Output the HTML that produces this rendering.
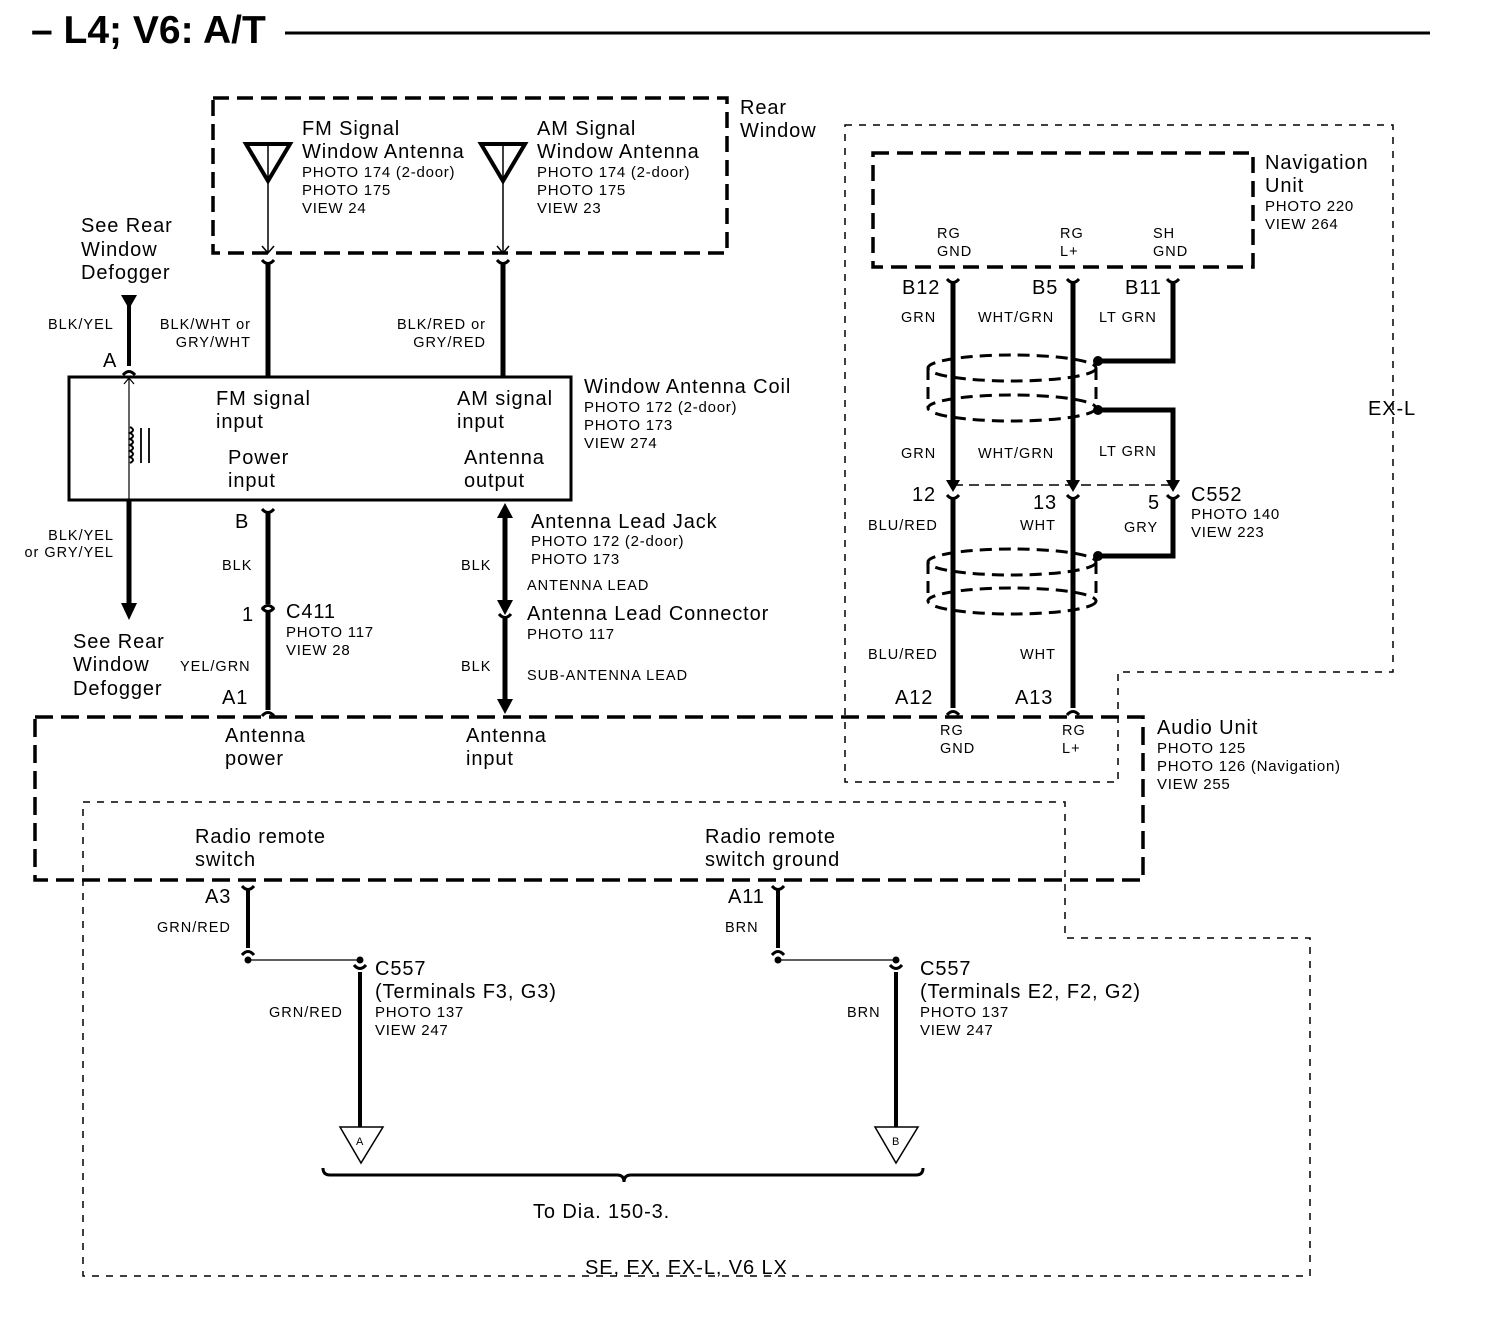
<!DOCTYPE html>
<html><head><meta charset="utf-8"><style>
html,body{margin:0;padding:0;background:#fff}
svg{display:block}
text{font-family:"Liberation Sans",Arial,sans-serif;fill:#000}
.L{font-size:20px;letter-spacing:0.9px}.S{font-size:14.5px;letter-spacing:1px}.W{font-size:15px;letter-spacing:0.75px}
</style></head><body>
<svg width="1504" height="1342" viewBox="0 0 1504 1342" xmlns="http://www.w3.org/2000/svg">
<defs>
<g id="cu"><path d="M-6,-5 Q0,2 6,-5" fill="none" stroke="#000" stroke-width="3"/></g>
<g id="cd"><path d="M-6,5 Q0,-2 6,5" fill="none" stroke="#000" stroke-width="3"/></g>
</defs>
<text x="31" y="43" style="font-size:39px;font-weight:bold">– L4; V6: A/T</text>
<line x1="285" y1="33" x2="1430" y2="33" stroke="#000" stroke-width="3"/>

<g fill="none" stroke="#000">
<rect x="213" y="98" width="514" height="155" stroke-width="3.5" stroke-dasharray="16,8"/>
<rect x="873" y="153" width="380" height="114" stroke-width="3.5" stroke-dasharray="16,8"/>
<rect x="35" y="717" width="1108" height="163" stroke-width="3.5" stroke-dasharray="18,8"/>
<path d="M845,125 H1393 V672 H1118 V782 H845 Z" stroke-width="1.5" stroke-dasharray="7,7"/>
<path d="M83,802 H1065 V938 H1310 V1276 H83 Z" stroke-width="1.5" stroke-dasharray="7,7"/>

<path d="M246,144 H290 L268,181 Z" stroke-width="4"/>
<line x1="268" y1="144" x2="268" y2="253" stroke-width="1.5"/>
<path d="M262,246 L268,253 L274,246" stroke-width="1.5"/>
<path d="M481,144 H525 L503,181 Z" stroke-width="4"/>
<line x1="503" y1="144" x2="503" y2="253" stroke-width="1.5"/>
<path d="M497,246 L503,253 L509,246" stroke-width="1.5"/>
<line x1="268" y1="262" x2="268" y2="377" stroke-width="5"/>
<line x1="503" y1="262" x2="503" y2="377" stroke-width="5"/>
<rect x="69" y="377" width="502" height="123" stroke-width="3"/>
<line x1="129" y1="300" x2="129" y2="366" stroke-width="4"/>
<line x1="129" y1="377" x2="129" y2="500" stroke-width="1.2"/>
<path d="M124,384 L129,378 L134,384" stroke-width="1.2"/>
<path d="M130,427 q6,3 0,6 q6,3 0,6 q6,3 0,6 q6,3 0,6 q6,3 0,6 q6,3 0,6" stroke-width="2"/>
<line x1="141" y1="428" x2="141" y2="463" stroke-width="1.8"/>
<line x1="149" y1="428" x2="149" y2="463" stroke-width="1.8"/>
<line x1="129" y1="500" x2="129" y2="605" stroke-width="5"/>
<line x1="268" y1="512" x2="268" y2="604" stroke-width="5"/>
<line x1="268" y1="612" x2="268" y2="710" stroke-width="5"/>
<line x1="505" y1="508" x2="505" y2="605" stroke-width="5"/>
<line x1="505" y1="616" x2="505" y2="706" stroke-width="5"/>

<line x1="953" y1="282" x2="953" y2="485" stroke-width="5"/>
<line x1="1073" y1="282" x2="1073" y2="485" stroke-width="5"/>
<path d="M1173,282 V361 H1098" stroke-width="5"/>
<path d="M1098,410 H1173 V485" stroke-width="5"/>
<line x1="953" y1="485" x2="1173" y2="485" stroke-width="1.5" stroke-dasharray="10,6"/>
<line x1="953" y1="498" x2="953" y2="708" stroke-width="5"/>
<line x1="1073" y1="498" x2="1073" y2="708" stroke-width="5"/>
<path d="M1173,498 V556 H1098" stroke-width="5"/>
<g stroke-width="3" stroke-dasharray="12,7">
<ellipse cx="1012" cy="368" rx="84" ry="13"/>
<ellipse cx="1012" cy="408" rx="84" ry="13"/>
<line x1="928" y1="368" x2="928" y2="408"/>
<line x1="1096" y1="368" x2="1096" y2="408"/>
<ellipse cx="1012" cy="562" rx="84" ry="13"/>
<ellipse cx="1012" cy="601" rx="84" ry="13"/>
<line x1="928" y1="562" x2="928" y2="601"/>
<line x1="1096" y1="562" x2="1096" y2="601"/>
</g>

<line x1="248" y1="890" x2="248" y2="948" stroke-width="4"/>
<line x1="778" y1="890" x2="778" y2="948" stroke-width="4"/>
<line x1="248" y1="960" x2="360" y2="960" stroke-width="1.2"/>
<line x1="778" y1="960" x2="896" y2="960" stroke-width="1.2"/>
<line x1="360" y1="972" x2="360" y2="1127" stroke-width="4"/>
<line x1="896" y1="972" x2="896" y2="1127" stroke-width="4"/>
<path d="M340,1127 H383 L361,1163 Z" stroke-width="1.5"/>
<path d="M875,1127 H918 L896,1163 Z" stroke-width="1.5"/>
<path d="M323,1168 q0,7 7,7 H617 q7,0 7,7 q0,-7 7,-7 H916 q7,0 7,-7" stroke-width="3"/>
</g>
<path d="M121,295 H137 L129,309 Z"/>
<path d="M121,603 H137 L129,620 Z"/>
<path d="M497,518 L505,503 L513,518 Z"/>
<path d="M497,600 L505,615 L513,600 Z"/>
<path d="M497,699 L505,714 L513,699 Z"/>
<path d="M946,480 L953,492 L960,480 Z"/><path d="M1066,480 L1073,492 L1080,480 Z"/><path d="M1166,480 L1173,492 L1180,480 Z"/>
<circle cx="1098" cy="361" r="5"/><circle cx="1098" cy="410" r="5"/><circle cx="1098" cy="556" r="5"/>
<circle cx="248" cy="960" r="3.5"/><circle cx="360" cy="960" r="3.5"/>
<circle cx="778" cy="960" r="3.5"/><circle cx="896" cy="960" r="3.5"/>
<use href="#cu" x="268" y="265"/><use href="#cu" x="503" y="265"/>
<use href="#cd" x="129" y="370"/>
<use href="#cu" x="268" y="514"/>
<use href="#cd" x="268" y="604"/><use href="#cu" x="268" y="613"/>
<use href="#cd" x="268" y="711"/>
<use href="#cu" x="505" y="619"/>
<use href="#cu" x="953" y="284"/><use href="#cu" x="1073" y="284"/><use href="#cu" x="1173" y="284"/>
<use href="#cu" x="953" y="500"/><use href="#cu" x="1073" y="500"/><use href="#cu" x="1173" y="500"/>
<use href="#cd" x="953" y="710"/><use href="#cd" x="1073" y="710"/>
<use href="#cu" x="248" y="891"/><use href="#cu" x="778" y="891"/>
<use href="#cd" x="248" y="950"/><use href="#cd" x="778" y="950"/>
<use href="#cu" x="360" y="970"/><use href="#cu" x="896" y="970"/>

<text class="L" x="740" y="114">Rear</text><text class="L" x="740" y="137">Window</text>
<text class="L" x="302" y="135">FM Signal</text><text class="L" x="302" y="158">Window Antenna</text>
<text class="W" x="302" y="177">PHOTO 174 (2-door)</text><text class="W" x="302" y="195">PHOTO 175</text><text class="W" x="302" y="213">VIEW 24</text>
<text class="L" x="537" y="135">AM Signal</text><text class="L" x="537" y="158">Window Antenna</text>
<text class="W" x="537" y="177">PHOTO 174 (2-door)</text><text class="W" x="537" y="195">PHOTO 175</text><text class="W" x="537" y="213">VIEW 23</text>
<text class="L" x="81" y="232">See Rear</text><text class="L" x="81" y="256">Window</text><text class="L" x="81" y="279">Defogger</text>
<text class="S" x="48" y="329">BLK/YEL</text>
<text class="L" x="103" y="367">A</text>
<text class="S" x="251" y="329" text-anchor="end">BLK/WHT or</text><text class="S" x="251" y="347" text-anchor="end">GRY/WHT</text>
<text class="S" x="486" y="329" text-anchor="end">BLK/RED or</text><text class="S" x="486" y="347" text-anchor="end">GRY/RED</text>
<text class="L" x="216" y="405">FM signal</text><text class="L" x="216" y="428">input</text>
<text class="L" x="228" y="464">Power</text><text class="L" x="228" y="487">input</text>
<text class="L" x="457" y="405">AM signal</text><text class="L" x="457" y="428">input</text>
<text class="L" x="464" y="464">Antenna</text><text class="L" x="464" y="487">output</text>
<text class="L" x="584" y="393">Window Antenna Coil</text>
<text class="W" x="584" y="412">PHOTO 172 (2-door)</text><text class="W" x="584" y="430">PHOTO 173</text><text class="W" x="584" y="448">VIEW 274</text>
<text class="S" x="114" y="540" text-anchor="end">BLK/YEL</text><text class="S" x="114" y="557" text-anchor="end">or GRY/YEL</text>
<text class="L" x="73" y="648">See Rear</text><text class="L" x="73" y="671">Window</text><text class="L" x="73" y="695">Defogger</text>
<text class="L" x="235" y="528">B</text>
<text class="S" x="222" y="570">BLK</text>
<text class="L" x="242" y="621">1</text>
<text class="L" x="286" y="618">C411</text><text class="W" x="286" y="637">PHOTO 117</text><text class="W" x="286" y="655">VIEW 28</text>
<text class="S" x="180" y="671">YEL/GRN</text>
<text class="L" x="222" y="704">A1</text>
<text class="L" x="531" y="528">Antenna Lead Jack</text>
<text class="W" x="531" y="546">PHOTO 172 (2-door)</text><text class="W" x="531" y="564">PHOTO 173</text>
<text class="S" x="527" y="590">ANTENNA LEAD</text>
<text class="L" x="527" y="620">Antenna Lead Connector</text>
<text class="W" x="527" y="639">PHOTO 117</text>
<text class="S" x="461" y="570">BLK</text><text class="S" x="461" y="671">BLK</text>
<text class="S" x="527" y="680">SUB-ANTENNA LEAD</text>
<text class="L" x="225" y="742">Antenna</text><text class="L" x="225" y="765">power</text>
<text class="L" x="466" y="742">Antenna</text><text class="L" x="466" y="765">input</text>
<text class="S" x="940" y="735">RG</text><text class="S" x="940" y="753">GND</text>
<text class="S" x="1062" y="735">RG</text><text class="S" x="1062" y="753">L+</text>
<text class="L" x="1157" y="734">Audio Unit</text>
<text class="W" x="1157" y="753">PHOTO 125</text><text class="W" x="1157" y="771">PHOTO 126 (Navigation)</text><text class="W" x="1157" y="789">VIEW 255</text>
<text class="L" x="195" y="843">Radio remote</text><text class="L" x="195" y="866">switch</text>
<text class="L" x="705" y="843">Radio remote</text><text class="L" x="705" y="866">switch ground</text>
<text class="L" x="1368" y="415">EX-L</text>
<text class="L" x="1265" y="169">Navigation</text><text class="L" x="1265" y="192">Unit</text>
<text class="W" x="1265" y="211">PHOTO 220</text><text class="W" x="1265" y="229">VIEW 264</text>
<text class="S" x="937" y="238">RG</text><text class="S" x="937" y="256">GND</text>
<text class="S" x="1060" y="238">RG</text><text class="S" x="1060" y="256">L+</text>
<text class="S" x="1153" y="238">SH</text><text class="S" x="1153" y="256">GND</text>
<text class="L" x="902" y="294">B12</text><text class="L" x="1032" y="294">B5</text><text class="L" x="1125" y="294">B11</text>
<text class="S" x="901" y="322">GRN</text><text class="S" x="978" y="322">WHT/GRN</text><text class="S" x="1099" y="322">LT GRN</text>
<text class="S" x="901" y="458">GRN</text><text class="S" x="978" y="458">WHT/GRN</text><text class="S" x="1099" y="456">LT GRN</text>
<text class="L" x="912" y="501">12</text><text class="L" x="1033" y="509">13</text><text class="L" x="1148" y="509">5</text>
<text class="L" x="1191" y="501">C552</text><text class="W" x="1191" y="519">PHOTO 140</text><text class="W" x="1191" y="537">VIEW 223</text>
<text class="S" x="868" y="530">BLU/RED</text><text class="S" x="1020" y="530">WHT</text><text class="S" x="1124" y="532">GRY</text>
<text class="S" x="868" y="659">BLU/RED</text><text class="S" x="1020" y="659">WHT</text>
<text class="L" x="895" y="704">A12</text><text class="L" x="1015" y="704">A13</text>
<text class="L" x="205" y="903">A3</text><text class="S" x="157" y="932">GRN/RED</text>
<text class="L" x="728" y="903">A11</text><text class="S" x="725" y="932">BRN</text>
<text class="L" x="375" y="975">C557</text><text class="L" x="375" y="998">(Terminals F3, G3)</text>
<text class="W" x="375" y="1017">PHOTO 137</text><text class="W" x="375" y="1035">VIEW 247</text>
<text class="S" x="269" y="1017">GRN/RED</text>
<text class="L" x="920" y="975">C557</text><text class="L" x="920" y="998">(Terminals E2, F2, G2)</text>
<text class="W" x="920" y="1017">PHOTO 137</text><text class="W" x="920" y="1035">VIEW 247</text>
<text class="S" x="847" y="1017">BRN</text>
<text x="356" y="1145" style="font-size:11px">A</text><text x="892" y="1145" style="font-size:11px">B</text>
<text class="L" x="533" y="1218">To Dia. 150-3.</text>
<text class="L" x="585" y="1274">SE, EX, EX-L, V6 LX</text>
</svg>
</body></html>
